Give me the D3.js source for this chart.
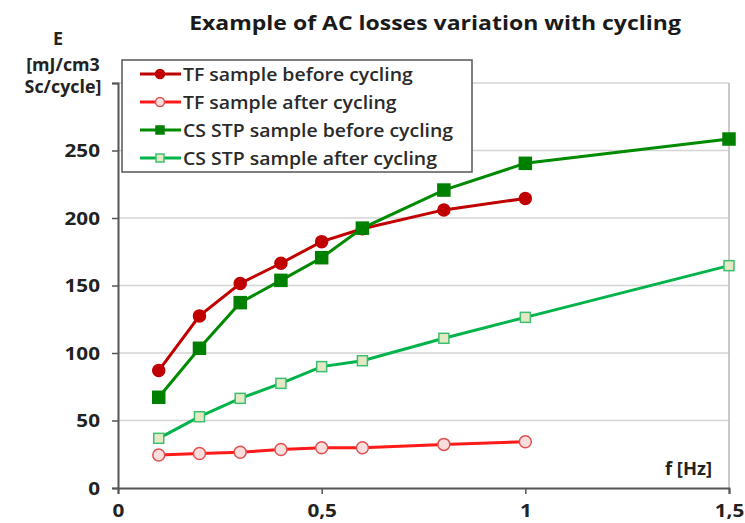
<!DOCTYPE html>
<html><head><meta charset="utf-8">
<script src="https://cdn.jsdelivr.net/npm/d3@7"></script>
<style>body{margin:0;background:#fff}svg{display:block}</style>
</head><body>
<svg id="c" width="745" height="523"></svg>
<script>
const freqA = [0.1,0.2,0.3,0.4,0.5,0.6,0.8,1.0];
const freqB = [0.1,0.2,0.3,0.4,0.5,0.6,0.8,1.0,1.5];
const tfBefore = [87,127.5,151.5,166.5,182.5,192,206,214.5];
const tfAfter = [24.5,25.5,26.5,28.5,29.8,29.8,32.3,34.3];
const csBefore = [67.2,103.5,137.3,153.8,170.6,192.5,220.7,240.5,258.5];
const csAfter = [36.8,52.8,66.4,77.5,89.9,94.3,110.9,126.4,164.7];
const yTicks = [0,50,100,150,200,250,300];
const yTickLabels = ["0","50","100","150","200","250",""];
const xTicks = [0,0.5,1,1.5];
const xTickLabels = ["0","0,5","1","1,5"];
const seriesNames = ["TF sample before cycling","TF sample after cycling","CS STP sample before cycling","CS STP sample after cycling"];

const series = [
  {name:seriesNames[0], x:freqA, y:tfBefore, line:"#c00000", shape:"circle", fill:"#c00000", stroke:"#c00000", size:6},
  {name:seriesNames[1], x:freqA, y:tfAfter, line:"#ff1a1a", shape:"circle", fill:"#f9dede", stroke:"#e05050", size:6},
  {name:seriesNames[2], x:freqB, y:csBefore, line:"#008a00", shape:"square", fill:"#008000", stroke:"#008000", size:12},
  {name:seriesNames[3], x:freqB, y:csAfter, line:"#00b34a", shape:"square", fill:"#e4e8c4", stroke:"#3cc070", size:10}
];

const svg = d3.select("#c");
const font = "'Open Sans', sans-serif";
const SX = 1.15; // horizontal stretch of the original's text
const x = d3.scaleLinear().domain([0,1.5]).range([118,729]);
const y = d3.scaleLinear().domain([0,300]).range([488,83]);

function stretchedText(parent, tx, ty, str, opts){
  const g = parent.append("g").attr("transform",`translate(${tx},${ty}) scale(${opts.sx||SX},1)`);
  return g.append("text").attr("x",0).attr("y",0)
    .attr("text-anchor",opts.anchor||"start")
    .attr("font-family",font).attr("font-size",opts.size)
    .attr("font-weight",opts.weight||700).attr("fill",opts.fill||"#222")
    .text(str);
}

// gridlines
svg.append("g").selectAll("line").data(yTicks.filter(d=>d>0)).join("line")
  .attr("x1",x(0)).attr("x2",x(1.5)).attr("y1",d=>y(d)).attr("y2",d=>y(d))
  .attr("stroke","#d4d4d4").attr("stroke-width",1.5);
// right border
svg.append("line").attr("x1",x(1.5)).attr("x2",x(1.5)).attr("y1",y(300)).attr("y2",y(0))
  .attr("stroke","#b8b8b8").attr("stroke-width",1.5);

// axes
const yAxis = d3.axisLeft(y).tickValues(yTicks).tickFormat((d,i)=>yTickLabels[i]).tickSize(6).tickPadding(12);
const gy = svg.append("g").attr("transform",`translate(${x(0)},0)`).call(yAxis);
gy.select(".domain").attr("stroke","#555").attr("stroke-width",2);
gy.selectAll(".tick line").attr("stroke","#555").attr("stroke-width",1.5);
gy.selectAll("text").attr("font-family",font).attr("font-size",18).attr("font-weight",700)
  .attr("fill","#222").attr("dy","0.35em").attr("x",-18/SX).attr("transform",`scale(${SX},1)`);

const xAxis = d3.axisBottom(x).tickValues(xTicks).tickFormat((d,i)=>xTickLabels[i]).tickSize(6).tickPadding(10);
const gx = svg.append("g").attr("transform",`translate(0,${y(0)})`).call(xAxis);
gx.select(".domain").attr("stroke","#555").attr("stroke-width",2);
gx.selectAll(".tick line").attr("stroke","#555").attr("stroke-width",1.5);
gx.selectAll("text").attr("font-family",font).attr("font-size",18).attr("font-weight",700)
  .attr("fill","#222").attr("transform",`scale(${SX},1)`);

// lines
const lineGen = d3.line();
series.forEach(s=>{
  const pts = s.x.map((v,i)=>[x(v),y(s.y[i])]);
  svg.append("path").attr("d",lineGen(pts)).attr("fill","none")
    .attr("stroke",s.line).attr("stroke-width",3);
});
function drawMarker(g,s,cx,cy){
  if(s.shape==="circle"){
    g.append("circle").attr("cx",cx).attr("cy",cy).attr("r",s.size)
      .attr("fill",s.fill).attr("stroke",s.stroke).attr("stroke-width",1.5);
  } else {
    g.append("rect").attr("x",cx-s.size/2).attr("y",cy-s.size/2).attr("width",s.size).attr("height",s.size)
      .attr("fill",s.fill).attr("stroke",s.stroke).attr("stroke-width",1.5);
  }
}
series.forEach(s=>{
  const g = svg.append("g");
  s.x.forEach((v,i)=>drawMarker(g,s,x(v),y(s.y[i])));
});

// legend
const lg = svg.append("g");
lg.append("rect").attr("x",122).attr("y",60).attr("width",350).attr("height",112)
  .attr("fill","#fff").attr("stroke","#555").attr("stroke-width",1.5);
series.forEach((s,i)=>{
  const ly = 74 + i*28;
  lg.append("line").attr("x1",140).attr("x2",181).attr("y1",ly).attr("y2",ly)
    .attr("stroke",s.line).attr("stroke-width",3);
  const ms = {...s, size: s.shape==="circle"?4.5:8};
  drawMarker(lg,ms,160,ly);
  stretchedText(lg,183,ly+6.5,s.name,{size:18,weight:600,sx:1.08,fill:"#2a2a2a"});
});

// title
stretchedText(svg,435,30,"Example of AC losses variation with cycling",{size:20,weight:700,anchor:"middle",fill:"#1a1a1a"});

// y axis title
[["E",45,58],["[mJ/cm3",71,63],["Sc/cycle]",93,63]].forEach(([t,yy,xx])=>{
  stretchedText(svg,xx,yy,t,{size:17,weight:700,anchor:"middle",sx:1.05});
});

// x axis title
stretchedText(svg,712,475,"f [Hz]",{size:17,weight:700,anchor:"end",sx:1.08});
</script>
</body></html>
